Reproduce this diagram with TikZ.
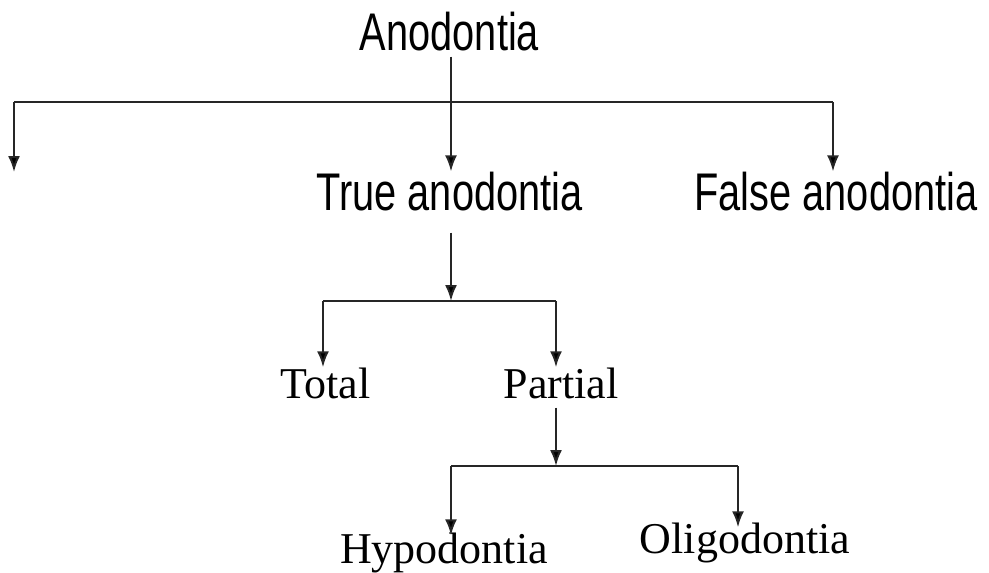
\documentclass[tikz,border=0pt]{standalone}
\usepackage{fontspec}
\setmainfont{Liberation Serif}
\newfontfamily\narrowsans[FakeStretch=0.75]{Liberation Sans}
\usetikzlibrary{arrows.meta}

\begin{document}
\begin{tikzpicture}[x=1pt, y=-1pt,
        bigtext/.style={inner sep=0pt, anchor=base, font=\narrowsans\fontsize{53}{60}\selectfont},
        smalltext/.style={inner sep=0pt, anchor=base, font=\fontsize{44}{50}\selectfont},
        conn/.style={draw=black!85, line width=2pt},
        arr/.style={conn, -{Latex[length=16pt,width=12pt,fill=black]}}]
        \useasboundingbox (0,0) rectangle (989,573);

        \node[bigtext] (ano) at (449.5,50) {Anodontia};
        \node[bigtext] (true) at (449.5,210) {True anodontia};
        \node[bigtext] (false) at (836,210) {False anodontia};
        \node[smalltext] (total) at (325.5,398) {Total};
        \node[smalltext] (partial) at (561,398) {Partial};
        \node[smalltext] (hypo) at (444,563) {Hypodontia};
        \node[smalltext] (oligo) at (745,553) {Oligodontia};

        \coordinate (barL) at (14,102);
        \coordinate (barR) at (833,102);
        \coordinate (lost) at (14,172);
        \coordinate (splitA) at (451,301);
        \coordinate (splitAL) at (323,301);
        \coordinate (splitAR) at (556,301);
        \coordinate (splitB) at (556,466);
        \coordinate (splitBL) at (451,466);
        \coordinate (splitBR) at (738,466);

        \draw[conn] (barL) -- (barR);
        \draw[arr, shorten <=6pt] (ano.south -| splitA) -- (splitA |- true.north);
        \draw[arr] (barL) -- (lost);
        \draw[arr] (barR) -- (barR |- false.north);

        \draw[arr, shorten <=22pt] (true.south -| splitA) -- (splitA);
        \draw[conn] (splitAL) -- (splitAR);
        \draw[arr] (splitAL) -- (splitAL |- total.north);
        \draw[arr] (splitAR) -- (splitAR |- partial.north);

        \draw[arr, shorten <=9pt] (partial.south -| splitB) -- (splitB);
        \draw[conn] (splitBL) -- (splitBR);
        \draw[arr, shorten >=-3pt] (splitBL) -- (splitBL |- hypo.north);
        \draw[arr, shorten >=-5pt] (splitBR) -- (splitBR |- oligo.north);
    \end{tikzpicture}
\end{document}
